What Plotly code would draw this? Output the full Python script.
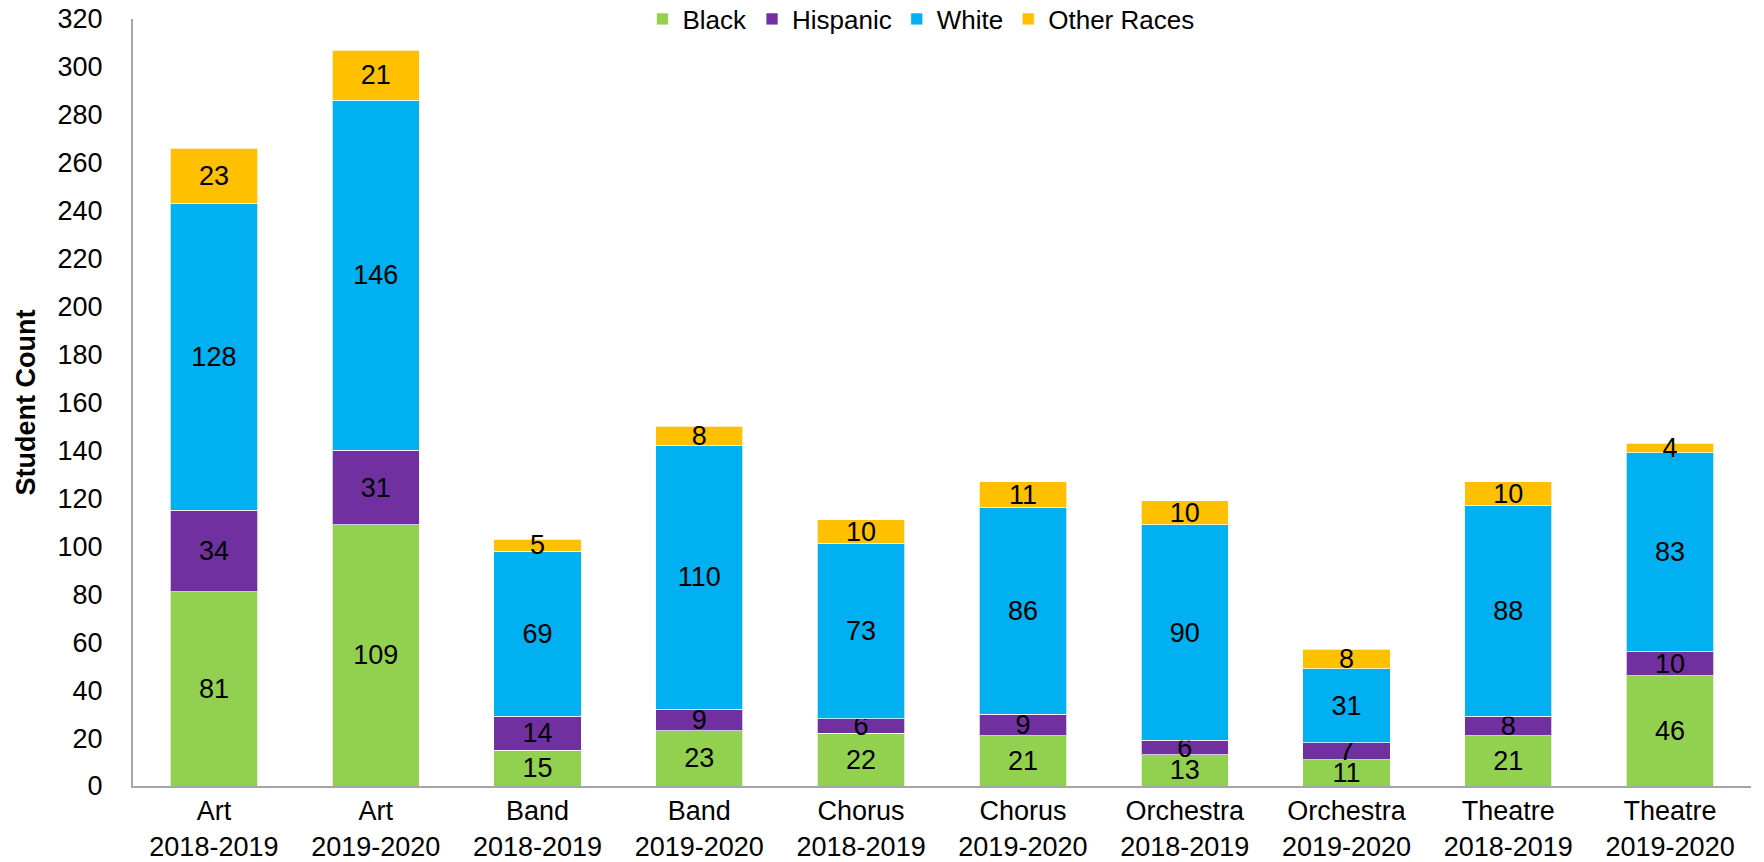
import plotly.graph_objects as go

categories = ["Art<br>2018-2019", "Art<br>2019-2020", "Band<br>2018-2019", "Band<br>2019-2020",
              "Chorus<br>2018-2019", "Chorus<br>2019-2020", "Orchestra<br>2018-2019",
              "Orchestra<br>2019-2020", "Theatre<br>2018-2019", "Theatre<br>2019-2020"]
black = [81, 109, 15, 23, 22, 21, 13, 11, 21, 46]
hispanic = [34, 31, 14, 9, 6, 9, 6, 7, 8, 10]
white = [128, 146, 69, 110, 73, 86, 90, 31, 88, 83]
other = [23, 21, 5, 8, 10, 11, 10, 8, 10, 4]

series = [("Black", black, "#92D050"), ("Hispanic", hispanic, "#7030A0"),
          ("White", white, "#00B0F0"), ("Other Races", other, "#FFC000")]

FONT = "Liberation Sans, Arial, sans-serif"
fig = go.Figure()
for name, vals, col in series:
    fig.add_trace(go.Bar(
        name=name, x=categories, y=vals,
        marker=dict(color=col, line=dict(color="rgba(255,255,255,0.7)", width=1)),
        text=[str(v) for v in vals], textposition="inside", insidetextanchor="middle",
        textangle=0, textfont=dict(color="black", size=27, family=FONT),
        cliponaxis=False,
    ))

fig.update_layout(
    barmode="stack", bargap=0.46,
    width=1764, height=862,
    margin=dict(l=133, r=13, t=19, b=76, autoexpand=False),
    plot_bgcolor="white", paper_bgcolor="white",
    font=dict(family=FONT, size=27, color="black"),
    uniformtext=dict(minsize=27, mode="show"),
    legend=dict(orientation="h", traceorder="normal", x=0.487, xanchor="center",
                y=1.0, yanchor="middle",
                font=dict(size=26), itemwidth=30, bgcolor="rgba(0,0,0,0)",
                itemclick=False),
    showlegend=True,
)
fig.update_xaxes(showline=True, linecolor="#A6A6A6", linewidth=2, ticks="",
                 tickfont=dict(size=27), showgrid=False)
fig.update_yaxes(range=[0, 320], dtick=20, showline=True, linecolor="#A6A6A6", linewidth=2,
                 showgrid=False, zeroline=False, ticks="", ticklabelstandoff=23,
                 ticklabeloverflow="allow", tickfont=dict(size=27),
                 title=dict(text="<b>Student Count</b>", font=dict(size=27), standoff=14))

fig.write_html("out.html", config={"displayModeBar": False},
               post_script="document.body.style.margin='0';document.body.style.padding='0';")
